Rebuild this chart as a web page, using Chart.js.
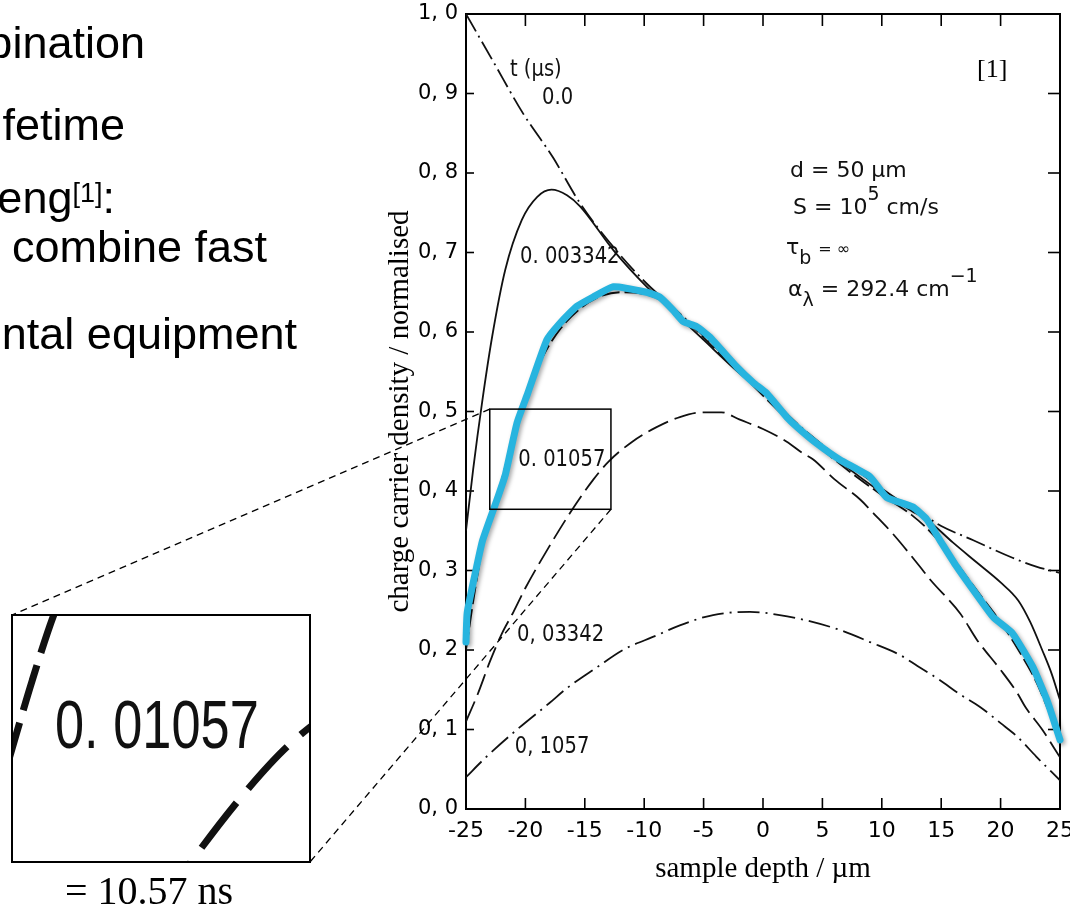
<!DOCTYPE html>
<html>
<head>
<meta charset="utf-8">
<script src="https://cdn.jsdelivr.net/npm/chart.js@4.4.1/dist/chart.umd.min.js"></script>
<style>
  html, body { margin: 0; padding: 0; background: #fff; }
  body { width: 1070px; height: 909px; position: relative; overflow: hidden; font-family: 'Liberation Sans', Arial, sans-serif; }
  #main { position: absolute; left: 0; top: 0; }
  .slide { position: absolute; white-space: nowrap; font-size: 45px; line-height: 45px; color: #000; text-align: right; }
  .slide .sup { font-size: 27px; position: relative; top: -11px; }
  .par { position: absolute; white-space: nowrap; font-family: 'DejaVu Sans', sans-serif; font-size: 22px; line-height: 24px; color: #111; }
  .par sup { font-size: 19px; position: relative; top: -14px; vertical-align: 0; }
  .par sub { font-size: 19px; position: relative; top: 10px; vertical-align: 0; }
  .ref { position: absolute; left: 977px; top: 56px; font-family: 'Liberation Serif', 'Times New Roman', serif; font-size: 26px; line-height: 26px; }
  #inset { position: absolute; left: 11px; top: 614px; width: 300px; height: 249px; border: 2px solid #000; box-sizing: border-box; }
  #zoom { position: absolute; left: 0; top: 0; }
  #inset .big { position: absolute; left: 42px; top: 74px; font-family: 'Liberation Sans', Arial, sans-serif; font-size: 68px; line-height: 68px; color: #111; white-space: nowrap; transform: scaleX(0.77); transform-origin: 0 0; }
  .ns { position: absolute; left: 0; top: 871px; width: 298px; text-align: center; font-family: 'Liberation Serif', 'Times New Roman', serif; font-size: 40px; line-height: 40px; }
</style>
</head>
<body>
<canvas id="main" width="1070" height="909"></canvas>

<div class="slide" style="right:925px;top:20px">bination</div>
<div class="slide" style="right:945px;top:102px">fetime</div>
<div class="slide" style="right:955px;top:175px">eng<span class="sup">[1]</span>:</div>
<div class="slide" style="right:803px;top:224px">combine fast</div>
<div class="slide" style="right:773px;top:311px">ntal equipment</div>

<div class="ref">[1]</div>
<div class="par" style="left:790px;top:158px">d = 50 µm</div>
<div class="par" style="left:793px;top:195px">S = 10<sup>5</sup> cm/s</div>
<div class="par" style="left:786px;top:235px">τ<sub>b</sub> <span style="font-size:16px">= ∞</span></div>
<div class="par" style="left:788px;top:277px">α<sub>λ</sub> = 292.4 cm<sup>−1</sup></div>

<div id="inset">
  <canvas id="zoom" width="296" height="245"></canvas>
  <div class="big">0. 01057</div>
</div>
<div class="ns">= 10.57 ns</div>

<script>
// curves: depth (µm) and normalised density, one pair per t (µs)
const t0X = [-25, -22.7, -20.2, -17.7, -15.4, -12.6, -9.8, -7.5, -5, -2.5, 0, 2.5, 5, 7.5, 10, 12.5, 13.8, 15, 17.7, 21, 23, 25];
const t0Y = [1.0, 0.94, 0.875, 0.82, 0.762, 0.707, 0.661, 0.63, 0.595, 0.56, 0.528, 0.49, 0.458, 0.43, 0.403, 0.378, 0.367, 0.356, 0.338, 0.316, 0.305, 0.297];

const t1X = [-25, -24.4, -23.65, -22.8, -21.7, -20.3, -19, -17.8, -16.5, -15.4, -12.6, -9.8, -7.5, -5, -2.5, 0, 2.5, 5, 7.5, 10, 12.5, 13.8, 16, 18, 20, 21.5, 22.5, 23.5, 24.3, 25];
const t1Y = [0.35, 0.427, 0.511, 0.594, 0.678, 0.741, 0.77, 0.779, 0.772, 0.758, 0.703, 0.657, 0.625, 0.59, 0.555, 0.523, 0.487, 0.455, 0.425, 0.398, 0.375, 0.364, 0.335, 0.31, 0.285, 0.262, 0.235, 0.2, 0.17, 0.137];

const t2X = [-25, -24.3, -23.6, -22.6, -21.8, -21, -20.3, -19.5, -18.5, -17, -15.5, -14, -12, -10, -8, -6, -4, -2, 0, 2.5, 5, 7.5, 10, 12.5, 14, 15.5, 17, 18.5, 20, 21.5, 23, 24, 25];
const t2Y = [0.2, 0.27, 0.33, 0.38, 0.425, 0.47, 0.505, 0.535, 0.57, 0.605, 0.628, 0.643, 0.65, 0.648, 0.635, 0.608, 0.578, 0.55, 0.52, 0.484, 0.452, 0.422, 0.395, 0.37, 0.35, 0.325, 0.295, 0.265, 0.235, 0.2, 0.16, 0.125, 0.09];

const t3X = [-25, -24, -23, -22, -21, -20, -18, -16, -14.3, -13, -11, -9, -7, -5, -3.5, -2, 0, 2, 3.4, 4.2, 6, 8.2, 9.3, 11, 13.2, 14.1, 16.6, 18, 20, 21.4, 22.1, 23.5, 25];
const t3Y = [0.11, 0.145, 0.185, 0.22, 0.248, 0.278, 0.33, 0.378, 0.414, 0.437, 0.462, 0.48, 0.493, 0.499, 0.499, 0.49, 0.478, 0.462, 0.447, 0.44, 0.415, 0.389, 0.372, 0.345, 0.305, 0.288, 0.246, 0.213, 0.175, 0.146, 0.128, 0.1, 0.065];

const t4X = [-25, -23.4, -20.7, -18, -16.5, -14, -11.8, -9, -7, -4.2, -1.1, 1.4, 4, 6.5, 9, 11.5, 13, 14.9, 16.5, 18.3, 20, 21.4, 23, 25];
const t4Y = [0.04, 0.064, 0.10, 0.133, 0.152, 0.178, 0.2, 0.218, 0.231, 0.244, 0.248, 0.244, 0.236, 0.225, 0.21, 0.194, 0.18, 0.162, 0.145, 0.128, 0.108, 0.091, 0.066, 0.036];

// hand-drawn blue trace over the 0.01057 curve
const blueX = [-25, -24.9, -24.1, -23.6, -22.3, -21.7, -20.7, -19.8, -18.2, -17.1, -15.7, -14.3, -12.6, -9.8, -8.7, -7.6, -6.7, -5.6, -4.5, -2.2, -0.8, 0.3, 2.0, 2.9, 4.5, 6.5, 9, 10.4, 12.6, 13.8, 14.9, 16.3, 18.3, 19.4, 21, 22.7, 23.9, 25];
const blueY = [0.21, 0.247, 0.305, 0.338, 0.393, 0.42, 0.486, 0.523, 0.59, 0.611, 0.632, 0.644, 0.657, 0.65, 0.644, 0.628, 0.613, 0.607, 0.594, 0.556, 0.536, 0.523, 0.493, 0.48, 0.46, 0.439, 0.418, 0.392, 0.38, 0.364, 0.338, 0.305, 0.263, 0.241, 0.221, 0.179, 0.137, 0.087];

const curveLabels = ['t (µs)', '0.0', '0. 003342', '0. 01057', '0, 03342', '0, 1057'];
const labelX = [-21.3, -18.6, -20.45, -20.6, -20.7, -20.9];
const labelY = [0.93, 0.894, 0.694, 0.439, 0.219, 0.078];

// the boxed region in the plot, and the window shown enlarged in the inset
const zoomX = [-23, -12.8];
const zoomY = [0.377, 0.503];
const insetX = [-21.6, -12.4];

const SCAN = "'DejaVu Sans', sans-serif";
const insetBox = { left: 12, top: 615, right: 310, bottom: 862 };

const zip = (xs, ys) => xs.map((x, i) => ({ x, y: ys[i] }));

const curves = [
  { xs: t0X, ys: t0Y, dash: [20, 5, 2, 5] },
  { xs: t1X, ys: t1Y, dash: [] },
  { xs: t2X, ys: t2Y, dash: [18, 5] },
  { xs: t3X, ys: t3Y, dash: [22, 7] },
  { xs: t4X, ys: t4Y, dash: [22, 6, 2, 6] }
];

function blackSets(width, k) {
  return curves.map(c => ({
    data: zip(c.xs, c.ys),
    borderColor: '#111',
    borderWidth: width,
    borderDash: c.dash.map(d => d * k),
    cubicInterpolationMode: 'monotone',
    pointRadius: 0,
    fill: false
  }));
}

const frame = {
  id: 'frame',
  beforeDatasetsDraw(chart) {
    const { ctx, chartArea: a, scales: { x, y } } = chart;
    const seg = (x1, y1, x2, y2) => { ctx.beginPath(); ctx.moveTo(x1, y1); ctx.lineTo(x2, y2); ctx.stroke(); };
    ctx.save();
    ctx.strokeStyle = '#000';
    ctx.lineWidth = 2;
    ctx.strokeRect(a.left, a.top, a.right - a.left, a.bottom - a.top);
    ctx.lineWidth = 1.6;
    x.ticks.forEach(t => {
      if (t.value <= x.min || t.value >= x.max) return;
      const px = x.getPixelForValue(t.value);
      seg(px, a.bottom, px, a.bottom - 11);
      seg(px, a.top, px, a.top + 12);
    });
    y.ticks.forEach(t => {
      if (t.value <= y.min + 1e-9 || t.value >= y.max - 1e-9) return;
      const py = y.getPixelForValue(t.value);
      seg(a.left, py, a.left + 8, py);
      seg(a.right, py, a.right - 12, py);
    });
    ctx.restore();
  },
  beforeDatasetDraw(chart, args) {
    if (args.index !== 0) return;
    const ctx = chart.ctx;
    ctx.save();
    ctx.shadowColor = 'rgba(0,0,0,0.35)';
    ctx.shadowBlur = 4;
    ctx.shadowOffsetX = 2;
    ctx.shadowOffsetY = 2;
  },
  afterDatasetDraw(chart, args) {
    if (args.index === 0) chart.ctx.restore();
  },
  afterDraw(chart) {
    const { ctx, scales: { x, y } } = chart;
    ctx.save();
    // curve labels, squeezed like the scanned lettering
    ctx.fillStyle = '#111';
    ctx.font = '23px ' + SCAN;
    ctx.textAlign = 'left';
    ctx.textBaseline = 'middle';
    curveLabels.forEach((s, i) => {
      ctx.save();
      ctx.translate(x.getPixelForValue(labelX[i]), y.getPixelForValue(labelY[i]));
      ctx.scale(0.85, 1);
      ctx.fillText(s, 0, 0);
      ctx.restore();
    });
    // small box and the callout to the inset
    const x0 = x.getPixelForValue(zoomX[0]), x1 = x.getPixelForValue(zoomX[1]);
    const y0 = y.getPixelForValue(zoomY[1]), y1 = y.getPixelForValue(zoomY[0]);
    ctx.strokeStyle = '#000';
    ctx.lineWidth = 1.5;
    ctx.strokeRect(x0, y0, x1 - x0, y1 - y0);
    ctx.lineWidth = 1.3;
    ctx.setLineDash([7, 5]);
    ctx.beginPath();
    ctx.moveTo(x0, y0); ctx.lineTo(insetBox.left, insetBox.top);
    ctx.moveTo(x1, y1); ctx.lineTo(insetBox.right, insetBox.bottom);
    ctx.stroke();
    ctx.restore();
  }
};

const blue = {
  data: zip(blueX, blueY),
  borderColor: '#27b4df',
  borderWidth: 7,
  borderJoinStyle: 'round',
  borderCapStyle: 'round',
  tension: 0.15,
  pointRadius: 0,
  clip: false,
  fill: false
};

new Chart(document.getElementById('main'), {
  type: 'line',
  data: { datasets: [blue].concat(blackSets(1.8, 1)) },
  options: {
    responsive: false,
    animation: false,
    devicePixelRatio: 1,
    layout: { padding: { left: 370, right: 10, top: 14, bottom: 0 } },
    plugins: { legend: { display: false }, tooltip: { enabled: false } },
    scales: {
      x: {
        type: 'linear', min: -25, max: 25,
        grid: { display: false, drawTicks: false },
        border: { display: false },
        ticks: { stepSize: 5, padding: 9, color: '#000', maxRotation: 0, autoSkip: false, font: { family: SCAN, size: 22 } },
        title: { display: true, text: 'sample depth / µm', color: '#000', font: { family: "'Liberation Serif','Times New Roman',serif", size: 29 }, padding: { top: 0, bottom: 22 } },
        afterFit: s => { s.height = 100; s.paddingLeft = 0; s.paddingRight = 0; }
      },
      y: {
        min: 0, max: 1,
        grid: { display: false, drawTicks: false },
        border: { display: false },
        ticks: { stepSize: 0.1, padding: 8, color: '#000', font: { family: SCAN, size: 21 }, callback: v => v.toFixed(1).replace('.', ', ') },
        title: { display: true, text: 'charge carrier density / normalised', color: '#000', font: { family: "'Liberation Serif','Times New Roman',serif", size: 29 }, padding: { top: 12.6, bottom: 0 } },
        afterFit: s => { s.width = 96; s.paddingTop = 0; s.paddingBottom = 0; }
      }
    }
  },
  plugins: [frame]
});

// enlarged view: original black curves only
new Chart(document.getElementById('zoom'), {
  type: 'line',
  data: { datasets: blackSets(7, 2.6) },
  options: {
    responsive: false,
    animation: false,
    devicePixelRatio: 1,
    layout: { padding: 0 },
    plugins: { legend: { display: false }, tooltip: { enabled: false } },
    scales: {
      x: { type: 'linear', display: false, min: insetX[0], max: insetX[1] },
      y: { display: false, min: zoomY[0], max: zoomY[1] }
    }
  }
});
</script>
</body>
</html>
